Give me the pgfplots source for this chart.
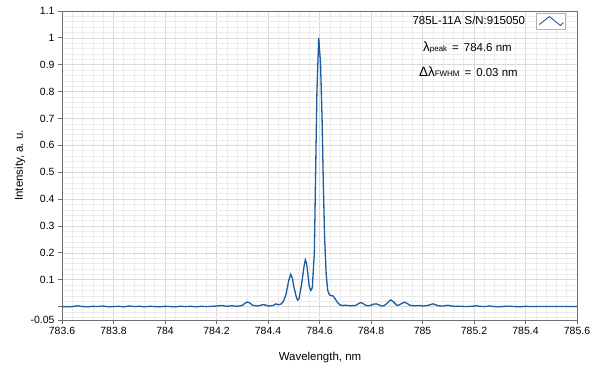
\documentclass[border=0pt]{standalone}
\usepackage{pgfplots}
\pgfplotsset{compat=1.18}
\usepackage{fontspec}
\setmainfont{Liberation Sans}
\definecolor{specline}{RGB}{28,92,158}
\definecolor{framegray}{RGB}{110,110,110}
\definecolor{majgrid}{RGB}{218,218,218}
\definecolor{mingrid}{RGB}{236,236,236}
\pgfplotstableread{
x y
783.60 0.000
783.62 -0.001
783.64 0.000
783.66 0.003
783.68 0.000
783.70 -0.001
783.72 0.001
783.74 0.000
783.76 0.002
783.78 -0.001
783.80 0.000
783.82 0.001
783.84 -0.001
783.86 0.002
783.88 0.000
783.90 0.001
783.92 -0.001
783.94 0.001
783.96 0.000
783.98 -0.001
784.00 0.001
784.02 0.000
784.04 -0.001
784.06 0.001
784.08 0.000
784.10 0.001
784.12 -0.001
784.14 0.001
784.16 0.000
784.18 0.001
784.20 0.002
784.22 0.004
784.24 0.001
784.26 0.003
784.28 0.001
784.30 0.004
784.31 0.012
784.32 0.017
784.33 0.013
784.34 0.005
784.36 0.002
784.38 0.007
784.39 0.006
784.40 0.002
784.42 0.004
784.43 0.010
784.44 0.007
784.45 0.009
784.46 0.020
784.47 0.045
784.48 0.095
784.488 0.120
784.495 0.105
784.50 0.075
784.51 0.035
784.515 0.024
784.52 0.028
784.53 0.080
784.54 0.150
784.545 0.174
784.55 0.160
784.555 0.120
784.56 0.075
784.566 0.060
784.572 0.070
784.58 0.200
784.585 0.500
784.59 0.800
784.597 1.000
784.604 0.905
784.61 0.700
784.615 0.450
784.62 0.250
784.626 0.120
784.632 0.060
784.638 0.045
784.645 0.040
784.652 0.040
784.66 0.030
784.67 0.015
784.68 0.006
784.69 0.004
784.70 0.005
784.72 0.003
784.74 0.004
784.75 0.010
784.76 0.015
784.77 0.011
784.78 0.004
784.79 0.003
784.80 0.005
784.81 0.009
784.82 0.010
784.83 0.007
784.84 0.002
784.85 0.003
784.86 0.010
784.87 0.020
784.877 0.025
784.89 0.015
784.90 0.005
784.91 0.006
784.92 0.012
784.93 0.016
784.94 0.012
784.95 0.005
784.97 0.003
784.99 0.004
785.00 0.002
785.02 0.004
785.04 0.010
785.05 0.007
785.06 0.003
785.08 0.002
785.10 0.005
785.11 0.002
785.13 0.001
785.15 0.001
785.17 0.000
785.19 0.001
785.21 0.003
785.22 0.001
785.24 0.000
785.26 0.002
785.28 0.000
785.30 -0.001
785.32 0.001
785.34 0.001
785.36 0.000
785.38 -0.001
785.40 0.001
785.42 0.000
785.45 0.000
785.50 0.000
785.55 0.000
785.60 0.000
}\spectrum
\begin{document}
\begin{tikzpicture}
\begin{axis}[
  scale only axis, width=515bp, height=309bp,
  xmin=783.6, xmax=785.6, ymin=-0.05, ymax=1.1,
  tick label style={font=\fontsize{10.5}{12}\selectfont},
  label style={font=\fontsize{11.5}{13}\selectfont},
  xtick={783.6,783.8,784,784.2,784.4,784.6,784.8,785,785.2,785.4,785.6},
  xticklabels={783.6,783.8,784,784.2,784.4,784.6,784.8,785,785.2,785.4,785.6},
  ytick={-0.05,0,0.1,0.2,0.3,0.4,0.5,0.6,0.7,0.8,0.9,1,1.1},
  yticklabels={-0.05,,0.1,0.2,0.3,0.4,0.5,0.6,0.7,0.8,0.9,1,1.1},
  minor xtick={783.64,783.68,783.72,783.76,783.84,783.88,783.92,783.96,784.04,784.08,784.12,784.16,784.24,784.28,784.32,784.36,784.44,784.48,784.52,784.56,784.64,784.68,784.72,784.76,784.84,784.88,784.92,784.96,785.04,785.08,785.12,785.16,785.24,785.28,785.32,785.36,785.44,785.48,785.52,785.56},
  minor ytick={-0.04,-0.02,0.02,0.04,0.06,0.08,0.12,0.14,0.16,0.18,0.22,0.24,0.26,0.28,0.32,0.34,0.36,0.38,0.42,0.44,0.46,0.48,0.52,0.54,0.56,0.58,0.62,0.64,0.66,0.68,0.72,0.74,0.76,0.78,0.82,0.84,0.86,0.88,0.92,0.94,0.96,0.98,1.02,1.04,1.06,1.08},
  grid=both,
  major grid style={majgrid, line width=0.6bp},
  minor grid style={mingrid, line width=0.6bp},
  tick pos=left,
  tick align=outside,
  major tick length=4bp,
  minor tick length=0pt,
  tick style={framegray, line width=0.8bp},
  axis line style={framegray, line width=0.8bp},
  xlabel={Wavelength, nm},
  ylabel={Intensity, a.\ u.},
  xlabel style={at={(axis description cs:0.501,-0.123)}, anchor=center},
  ylabel style={at={(axis description cs:-0.0816,0.5)}, anchor=center},
  clip mode=individual,
  legend style={at={(axis cs:785.557,1.0925)}, anchor=north east, draw=none, fill=none,
    font=\fontsize{11.5}{13}\selectfont, inner sep=0pt},
  legend cell align=right,
  legend plot pos=right,
  legend image code/.code={
    \draw[gray!60, fill=white, line width=0.6bp] (0bp,-8bp) rectangle (29bp,8bp);
    \draw[specline, line width=0.9bp] (3bp,-3bp) -- (13bp,5bp) -- (24bp,-4bp) -- (27bp,-1bp);
  },
]
\addplot[specline, line width=1.3bp] table[x=x,y=y] {\spectrum};
\addlegendentry{785L-11A S/N:915050\kern9bp}
\node[anchor=west, inner sep=0pt, font=\fontsize{11.5}{13}\selectfont] at (axis cs:785.002,0.966)
  {{\fontsize{13.5}{13}\selectfont λ}{\fontsize{8}{9}\selectfont peak}\hspace{5bp}=\hspace{5bp}784.6 nm};
\node[anchor=west, inner sep=0pt, font=\fontsize{11.5}{13}\selectfont] at (axis cs:784.986,0.876)
  {{\fontsize{13.5}{13}\selectfont Δλ}{\fontsize{8}{9}\selectfont FWHM}\hspace{5bp}=\hspace{5bp}0.03 nm};
\end{axis}
\path ([shift={(-62bp,-50bp)}]current axis.south west) rectangle ([shift={(22bp,11bp)}]current axis.north east);
\end{tikzpicture}
\end{document}
